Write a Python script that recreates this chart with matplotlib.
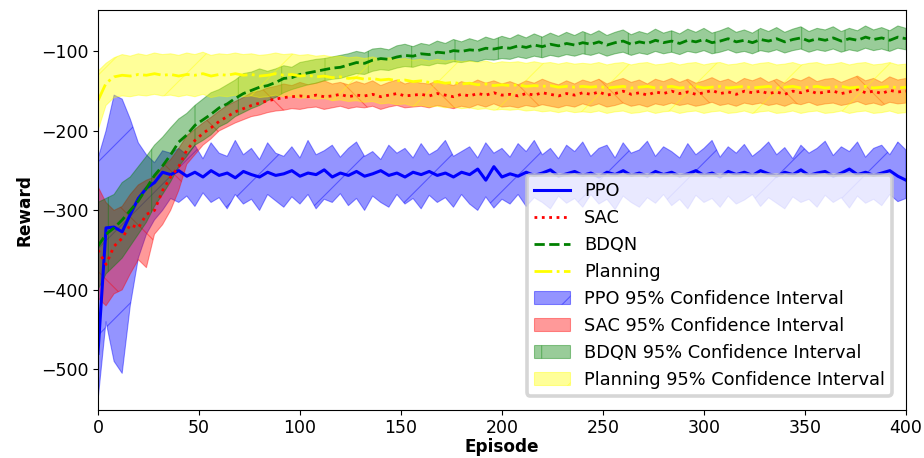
import numpy as np
import matplotlib
matplotlib.use('Agg')
import matplotlib.pyplot as plt

# 图是按 100dpi 的视觉尺寸来调的，实际用 260dpi 输出让阴影线稀疏一点
DPI = 260
S = 100 / DPI

# 每 4 个 episode 取一个点
episodes = np.arange(0, 401, 4)

ppo_mean = [-480, -322, -321, -327, -305, -285, -272, -265, -252, -255, -250,
            -257, -252, -258, -250, -256, -253, -259, -251, -255, -258,
            -252, -256, -254, -250, -257, -253, -255, -249, -258, -253,
            -256, -251, -257, -254, -250, -256, -253, -258, -252, -255,
            -251, -256, -253, -258, -252, -255, -248, -262, -245, -258,
            -254, -257, -252, -256, -253, -249, -257, -254, -251, -256,
            -253, -258, -252, -255, -250, -256, -253, -257, -251, -255,
            -252, -257, -254, -250, -256, -253, -258, -251, -255, -252,
            -256, -250, -254, -257, -252, -255, -249, -256, -253, -251,
            -257, -253, -248, -255, -252, -256, -253, -250, -257, -262]
ppo_upper = [-235, -200, -155, -160, -185, -215, -230, -240, -225, -228, -222,
             -230, -218, -235, -215, -228, -232, -212, -230, -222, -236,
             -215, -228, -232, -220, -234, -212, -230, -225, -218, -233,
             -222, -214, -232, -226, -236, -218, -228, -222, -234, -216,
             -230, -224, -212, -232, -226, -220, -234, -215, -228, -222,
             -233, -216, -226, -212, -230, -222, -235, -218, -226, -214,
             -232, -222, -218, -234, -215, -228, -224, -213, -232, -220,
             -226, -234, -216, -230, -222, -212, -233, -220, -228, -217,
             -232, -224, -214, -230, -221, -235, -218, -228, -222, -213,
             -231, -220, -226, -214, -233, -222, -218, -230, -214, -224]
ppo_lower = [-540, -440, -490, -505, -420, -360, -330, -312, -300, -285, -290,
             -282, -295, -278, -290, -284, -298, -280, -292, -286, -300,
             -280, -288, -296, -283, -292, -280, -298, -286, -290, -279,
             -294, -285, -300, -282, -290, -296, -280, -292, -285, -298,
             -281, -290, -284, -296, -280, -292, -300, -283, -297, -286,
             -292, -280, -295, -284, -290, -298, -282, -291, -285, -296,
             -280, -292, -286, -299, -282, -290, -296, -284, -291, -280,
             -294, -286, -298, -281, -290, -285, -296, -282, -292, -287,
             -280, -295, -284, -291, -298, -283, -290, -286, -296, -281,
             -290, -284, -297, -282, -291, -286, -294, -280, -289, -285]

sac_mean = [-350, -368, -345, -335, -318, -322, -305, -300, -275, -258, -245,
            -224, -212, -203, -196, -188, -182, -176, -172, -168, -165,
            -162, -160, -158, -157, -156, -157, -155, -157, -156, -154,
            -157, -155, -156, -154, -157, -155, -153, -156, -155, -154,
            -156, -153, -155, -157, -154, -156, -153, -155, -152, -155,
            -154, -156, -153, -155, -152, -154, -156, -153, -155, -152,
            -154, -151, -155, -153, -150, -154, -152, -155, -151, -153,
            -150, -153, -151, -154, -152, -149, -153, -151, -154, -150,
            -152, -150, -153, -151, -154, -150, -152, -149, -153, -151,
            -150, -153, -151, -148, -152, -150, -153, -149, -151, -150]
sac_upper = [-270, -290, -300, -295, -280, -268, -262, -258, -245, -236, -222,
             -206, -198, -190, -183, -175, -168, -163, -158, -152, -150,
             -146, -144, -141, -143, -139, -142, -140, -137, -141, -139,
             -142, -138, -141, -137, -143, -139, -136, -141, -138, -140,
             -141, -137, -140, -143, -138, -141, -136, -140, -137, -141,
             -138, -142, -137, -140, -135, -139, -142, -137, -141, -136,
             -139, -135, -141, -137, -134, -139, -136, -141, -135, -138,
             -134, -139, -135, -140, -137, -133, -138, -135, -140, -134,
             -137, -133, -139, -135, -140, -134, -137, -132, -138, -135,
             -134, -139, -135, -131, -137, -134, -139, -132, -136, -134]
sac_lower = [-410, -420, -405, -400, -380, -362, -372, -330, -318, -300, -275,
             -242, -230, -218, -210, -200, -195, -190, -186, -182, -180,
             -177, -175, -174, -172, -173, -171, -170, -173, -171, -169,
             -172, -170, -171, -169, -173, -170, -168, -171, -170, -169,
             -171, -168, -170, -172, -169, -171, -167, -170, -166, -170,
             -169, -171, -168, -170, -167, -169, -171, -168, -170, -166,
             -169, -166, -170, -168, -165, -169, -167, -170, -166, -168,
             -165, -168, -166, -169, -167, -164, -168, -166, -169, -165,
             -167, -165, -168, -166, -169, -165, -167, -164, -168, -166,
             -165, -168, -166, -163, -167, -165, -168, -164, -166, -165]

bdqn_mean = [-345, -330, -322, -312, -300, -288, -272, -256, -244, -230, -214,
             -205, -193, -186, -179, -171, -166, -159, -153, -149, -145,
             -143, -139, -134, -133, -129, -127, -125, -123, -121, -120,
             -117, -114, -115, -111, -109, -110, -107, -105, -106, -103,
             -104, -101, -102, -99, -100, -98, -99, -96, -97, -95,
             -96, -93, -95, -92, -94, -91, -93, -90, -92, -89,
             -91, -88, -92, -89, -87, -91, -88, -90, -86, -89,
             -87, -90, -86, -88, -85, -89, -87, -84, -88, -86,
             -89, -85, -87, -84, -88, -85, -83, -87, -84, -86,
             -83, -87, -84, -86, -82, -85, -83, -86, -82, -84]
bdqn_upper = [-290, -285, -280, -265, -258, -245, -232, -218, -208, -196, -185,
              -178, -168, -160, -152, -148, -142, -136, -128, -126, -122,
              -125, -122, -118, -120, -114, -112, -110, -109, -107, -105,
              -103, -100, -102, -97, -96, -98, -93, -91, -94, -90,
              -92, -87, -90, -85, -88, -84, -87, -82, -85, -81,
              -84, -79, -83, -78, -82, -77, -81, -76, -80, -75,
              -79, -74, -80, -76, -73, -79, -75, -78, -72, -77,
              -74, -78, -72, -76, -71, -77, -74, -70, -76, -73,
              -77, -71, -75, -70, -76, -72, -69, -75, -71, -73,
              -69, -75, -71, -74, -68, -73, -70, -74, -68, -71]
bdqn_lower = [-400, -380, -370, -360, -345, -330, -315, -295, -280, -264, -245,
              -232, -218, -212, -205, -195, -190, -182, -177, -172, -168,
              -162, -158, -152, -148, -145, -142, -140, -137, -135, -134,
              -131, -128, -129, -125, -123, -124, -121, -119, -120, -117,
              -118, -115, -116, -113, -114, -112, -113, -110, -111, -109,
              -110, -107, -109, -106, -108, -105, -107, -104, -106, -103,
              -105, -102, -106, -103, -101, -105, -102, -104, -100, -103,
              -101, -104, -100, -102, -99, -103, -101, -98, -102, -100,
              -103, -99, -101, -98, -102, -99, -97, -101, -98, -100,
              -97, -101, -98, -100, -96, -99, -97, -100, -96, -98]

plan_mean = [-162, -140, -132, -130, -131, -129, -130, -128, -130, -129, -131,
             -129, -130, -128, -131, -129, -130, -128, -130, -129, -131,
             -130, -128, -130, -129, -131, -130, -132, -131, -133, -132,
             -134, -133, -135, -134, -136, -135, -137, -136, -138, -137,
             -139, -138, -140, -139, -141, -140, -142, -141, -143, -142,
             -143, -142, -144, -143, -144, -143, -145, -144, -145, -144,
             -145, -144, -146, -145, -144, -146, -145, -144, -146, -145,
             -144, -146, -145, -144, -146, -145, -144, -146, -145, -144,
             -146, -145, -144, -146, -145, -144, -146, -145, -144, -146,
             -145, -144, -146, -145, -144, -146, -145, -144, -146, -145]
plan_upper = [-125, -115, -108, -104, -106, -103, -105, -102, -104, -103, -105,
              -102, -104, -101, -105, -103, -104, -102, -104, -103, -105,
              -104, -102, -104, -103, -105, -104, -106, -105, -107, -106,
              -108, -107, -109, -107, -110, -108, -110, -109, -111, -110,
              -112, -110, -112, -111, -113, -112, -114, -112, -115, -113,
              -114, -113, -115, -113, -115, -114, -116, -114, -116, -115,
              -116, -114, -117, -115, -114, -117, -115, -114, -117, -116,
              -114, -117, -115, -114, -117, -115, -114, -117, -116, -114,
              -117, -115, -114, -117, -116, -114, -117, -115, -114, -117,
              -116, -114, -117, -115, -114, -117, -116, -114, -117, -116]
plan_lower = [-200, -168, -158, -156, -157, -155, -156, -154, -156, -155, -157,
              -155, -157, -154, -158, -156, -157, -155, -157, -156, -158,
              -157, -155, -157, -156, -159, -158, -160, -159, -162, -161,
              -163, -162, -164, -163, -166, -165, -167, -166, -169, -168,
              -170, -169, -171, -170, -172, -171, -173, -172, -174, -173,
              -174, -173, -175, -174, -176, -175, -177, -175, -177, -176,
              -177, -175, -178, -176, -175, -178, -177, -175, -178, -176,
              -175, -178, -176, -175, -178, -176, -175, -178, -177, -175,
              -178, -176, -175, -178, -177, -175, -178, -176, -175, -178,
              -177, -175, -178, -176, -175, -178, -177, -175, -178, -177]

plt.rcParams['font.family'] = ['DejaVu Sans']
plt.rcParams['font.size'] = 12.5 * S
plt.rcParams['axes.linewidth'] = 0.8 * S
plt.rcParams['xtick.major.size'] = 3.5 * S
plt.rcParams['ytick.major.size'] = 3.5 * S
plt.rcParams['xtick.major.width'] = 0.8 * S
plt.rcParams['ytick.major.width'] = 0.8 * S
plt.rcParams['xtick.major.pad'] = 3.0 * S
plt.rcParams['ytick.major.pad'] = 3.5 * S
plt.rcParams['hatch.linewidth'] = 0.3
plt.rcParams['legend.fontsize'] = 12.8 * S

fig, ax = plt.subplots(figsize=(924 / DPI, 458 / DPI), dpi=DPI)
fig.subplots_adjust(left=0.106, right=0.9805, bottom=0.105, top=0.978)

lw = 2.0 * S
ax.plot(episodes, ppo_mean, color='blue', linestyle='-', linewidth=lw * 1.1, label='PPO')
ax.plot(episodes, sac_mean, color='red', linestyle=':', linewidth=lw, label='SAC')
ax.plot(episodes, bdqn_mean, color='green', linestyle='--', linewidth=lw, label='BDQN')
ax.plot(episodes, plan_mean, color='yellow', linestyle='-.', linewidth=lw, label='Planning')

ax.fill_between(episodes, ppo_lower, ppo_upper, color='blue', alpha=0.42,
                hatch='/', linewidth=0.3, label='PPO 95% Confidence Interval')
ax.fill_between(episodes, sac_lower, sac_upper, color='red', alpha=0.4,
                hatch='\\', linewidth=0.3, label='SAC 95% Confidence Interval')
ax.fill_between(episodes, bdqn_lower, bdqn_upper, color='green', alpha=0.4,
                hatch='|', linewidth=0.3, label='BDQN 95% Confidence Interval')
ax.fill_between(episodes, plan_lower, plan_upper, color='yellow', alpha=0.4,
                hatch='/', linewidth=0.3, label='Planning 95% Confidence Interval')

ax.set_xlim(0, 400)
ax.set_ylim(-551, -48)
ax.set_xticks(range(0, 401, 50))
ax.set_yticks(range(-500, -99, 100))
ax.set_xlabel('Episode', fontweight='bold', fontsize=12.2 * S, labelpad=1.0 * S)
ax.set_ylabel('Reward', fontweight='bold', fontsize=12.2 * S, labelpad=5 * S)
ax.legend(loc='lower right', labelspacing=0.5, borderaxespad=0.8)

fig.savefig('out.png', dpi=DPI)
